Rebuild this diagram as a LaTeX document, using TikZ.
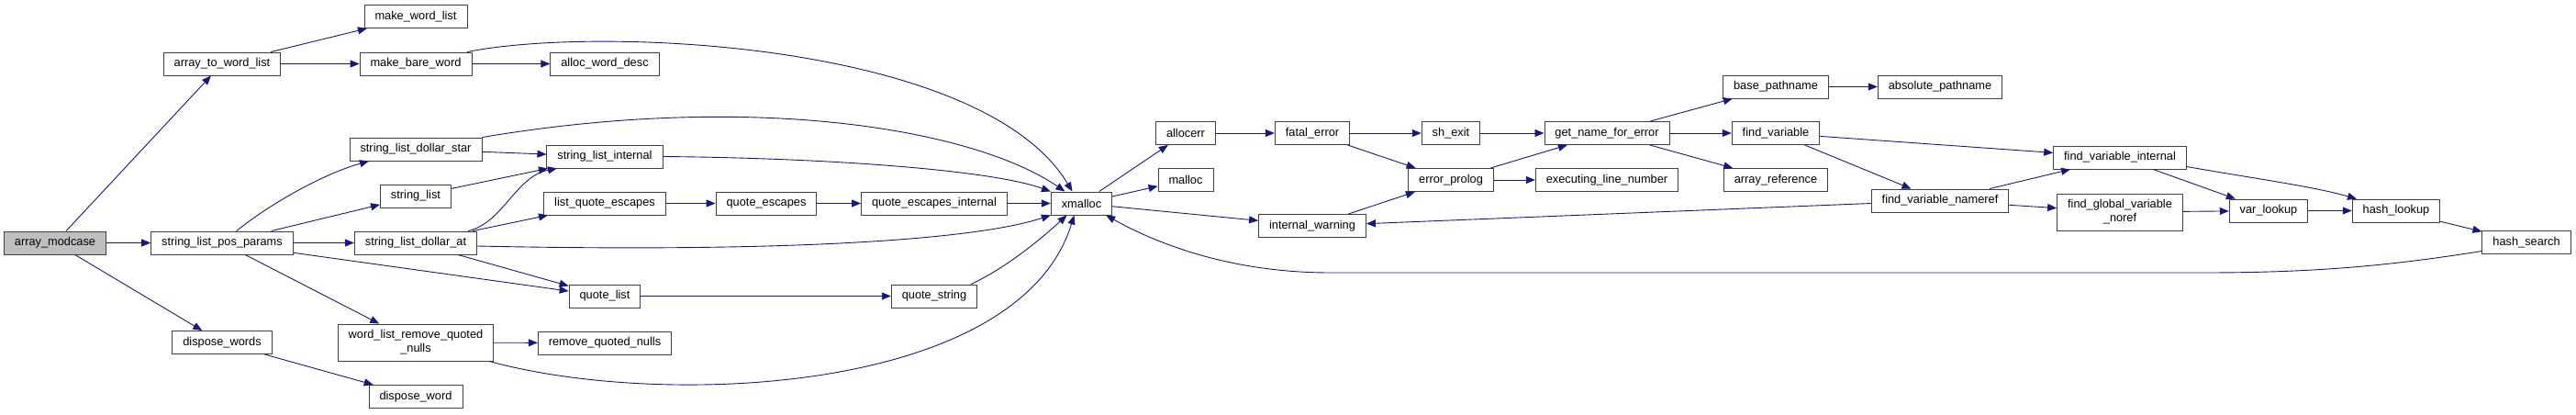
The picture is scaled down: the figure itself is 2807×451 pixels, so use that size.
\documentclass[tikz,border=0pt]{standalone}
\usepackage{fontspec}
\setmainfont{Liberation Sans}
\usetikzlibrary{arrows.meta}
\definecolor{callblue}{RGB}{25,25,112}
\tikzset{
  fn/.style={draw=black!75, line width=0.9pt, fill=white, minimum height=25pt,
             inner xsep=11.5pt, inner ysep=0pt, font=\fontsize{12.8}{15}\selectfont},
  fn2/.style={fn, minimum height=40pt, align=center},
  call/.style={draw=callblue, line width=0.9pt, -{Triangle[length=10pt,width=8pt]}},
}
\begin{document}
\begin{tikzpicture}[x=1pt, y=-1pt]
    \useasboundingbox (0,0) rectangle (2807,451);

         % --- Caller (left) ---
         \node[fn, fill=gray!50] (amodcase) at (60,264.5) {array\_modcase};

         % --- Rank 2 ---
         \node[fn] (atwl)   at (242,69.5)  {array\_to\_word\_list};
         \node[fn] (slpp)   at (242,264.5) {string\_list\_pos\_params};
         \node[fn] (dwords) at (242,373)   {dispose\_words};

         % --- Rank 3 ---
         \node[fn]  (mwl)     at (453,18)    {make\_word\_list};
         \node[fn]  (mbw)     at (453,69.5)  {make\_bare\_word};
         \node[fn]  (sldstar) at (453,162.5) {string\_list\_dollar\_star};
         \node[fn]  (slist)   at (453,213.5) {string\_list};
         \node[fn]  (sldat)   at (453,264.5) {string\_list\_dollar\_at};
         \node[fn2] (wlrqn)   at (453,373)   {word\_list\_remove\_quoted\\\_nulls};
         \node[fn]  (dword)   at (453,432)   {dispose\_word};

         % --- Rank 4 ---
         \node[fn] (awd)   at (659,69.5)  {alloc\_word\_desc};
         \node[fn] (slint) at (659,170.5) {string\_list\_internal};
         \node[fn] (lqe)   at (659,221.5) {list\_quote\_escapes};
         \node[fn] (qlist) at (659,322.5) {quote\_list};
         \node[fn] (rqn)   at (659,373.5) {remove\_quoted\_nulls};

         % --- Rank 5 to 7 ---
         \node[fn] (qesc)    at (835,221.5)    {quote\_escapes};
         \node[fn] (qesci)   at (1018,221.5)   {quote\_escapes\_internal};
         \node[fn] (qstr)    at (1018,322.5)   {quote\_string};
         \node[fn] (xmalloc) at (1178.5,221.5) {xmalloc};

         % --- Error handling ---
         \node[fn] (allocerr) at (1292,145) {allocerr};
         \node[fn] (malloc)   at (1292,196) {malloc};
         \node[fn] (ferr)     at (1430,145) {fatal\_error};
         \node[fn] (iwarn)    at (1430,246) {internal\_warning};
         \node[fn] (shexit)   at (1581,145) {sh\_exit};
         \node[fn] (eprolog)  at (1581,196) {error\_prolog};
         \node[fn] (gnfe)     at (1751,145) {get\_name\_for\_error};
         \node[fn] (eln)      at (1751,196) {executing\_line\_number};

         % --- Variable lookup ---
         \node[fn]  (bpath)   at (1935,94.5)  {base\_pathname};
         \node[fn]  (fvar)    at (1935,145)   {find\_variable};
         \node[fn]  (aref)    at (1935,196)   {array\_reference};
         \node[fn]  (apath)   at (2114,94.5)  {absolute\_pathname};
         \node[fn]  (fvnref)  at (2114,218.5) {find\_variable\_nameref};
         \node[fn]  (fvint)   at (2310,171.5) {find\_variable\_internal};
         \node[fn2] (fgvn)    at (2310,231)   {find\_global\_variable\\\_noref};
         \node[fn]  (vlookup) at (2472,229.5) {var\_lookup};
         \node[fn]  (hlookup) at (2611,229.5) {hash\_lookup};
         \node[fn]  (hsearch) at (2753,264)   {hash\_search};

         % --- Calls from the left part ---
         \draw[call] (amodcase) -- (atwl);
         \draw[call] (amodcase) -- (slpp);
         \draw[call] (amodcase) -- (dwords);
         \draw[call] (atwl) -- (mwl);
         \draw[call] (atwl) -- (mbw);
         \draw[call] (mbw) -- (awd);
         \draw[call] (slpp) .. controls (290,225) and (350,190) .. ([xshift=-51pt]sldstar.south);
         \draw[call] (slpp) -- (slist);
         \draw[call] (slpp) -- (sldat);
         \draw[call] (slpp) -- (qlist);
         \draw[call] (slpp) -- (wlrqn);
         \draw[call] (dwords) -- (dword);
         \draw[call] (sldstar) -- (slint);
         \draw[call] (slist) -- (slint);
         \draw[call] ([xshift=57pt]sldat.north) .. controls (548,243) and (562,192) .. ([xshift=-52pt]slint.south);
         \draw[call] (sldat) -- (lqe);
         \draw[call] (sldat) -- (qlist);
         \draw[call] (wlrqn) -- (rqn);
         \draw[call] (lqe) -- (qesc);
         \draw[call] (qesc) -- (qesci);
         \draw[call] (qlist) -- (qstr);

         % --- Calls into xmalloc ---
         \draw[call] ([xshift=56pt]mbw.north) .. controls (650,28) and (1070,45) .. ([xshift=-10pt]xmalloc.north);
         \draw[call] (sldstar.north east) .. controls (820,100) and (1060,140) .. ([xshift=-18pt]xmalloc.north);
         \draw[call] (slint.east) .. controls (900,172) and (1080,185) .. (xmalloc.north west);
         \draw[call] (qesci) -- (xmalloc);
         \draw[call] ([yshift=-3.5pt]sldat.east) .. controls (850,275) and (1060,262) .. (xmalloc.south west);
         \draw[call] ([xshift=40pt]qstr.north) .. controls (1100,290) and (1140,255) .. ([xshift=-16pt]xmalloc.south);
         \draw[call] ([xshift=80pt]wlrqn.south) .. controls (720,445) and (1110,430) .. ([xshift=-8pt]xmalloc.south);
         \draw[call] ([yshift=-9.5pt]hsearch.west) .. controls (2600,290) and (2520,297) .. (2400,297)
                     -- (1450,297) .. controls (1340,297) and (1260,265) .. ([xshift=-7pt]xmalloc.south east);

         % --- Calls from xmalloc onwards ---
         \draw[call] (xmalloc) -- (allocerr);
         \draw[call] (xmalloc) -- (malloc);
         \draw[call] (xmalloc) -- (iwarn);
         \draw[call] (allocerr) -- (ferr);
         \draw[call] (ferr) -- (shexit);
         \draw[call] (ferr) -- (eprolog);
         \draw[call] (iwarn) -- (eprolog);
         \draw[call] (shexit) -- (gnfe);
         \draw[call] (eprolog) -- (gnfe);
         \draw[call] (eprolog) -- (eln);
         \draw[call] (gnfe) -- (bpath);
         \draw[call] (gnfe) -- (fvar);
         \draw[call] (gnfe) -- (aref);
         \draw[call] (bpath) -- (apath);
         \draw[call] (fvar) -- (fvint);
         \draw[call] (fvar) -- (fvnref);
         \draw[call] (fvnref) -- (iwarn);
         \draw[call] (fvnref) -- (fvint);
         \draw[call] (fvnref) -- (fgvn);
         \draw[call] (fvint) -- (vlookup);
         \draw[call] ([yshift=-10pt]fvint.east) .. controls (2460,195) and (2520,203) .. ([xshift=-43pt]hlookup.north);
         \draw[call] (fgvn) -- (vlookup);
         \draw[call] (vlookup) -- (hlookup);
         \draw[call] (hlookup) -- (hsearch);

\end{tikzpicture}
\end{document}
